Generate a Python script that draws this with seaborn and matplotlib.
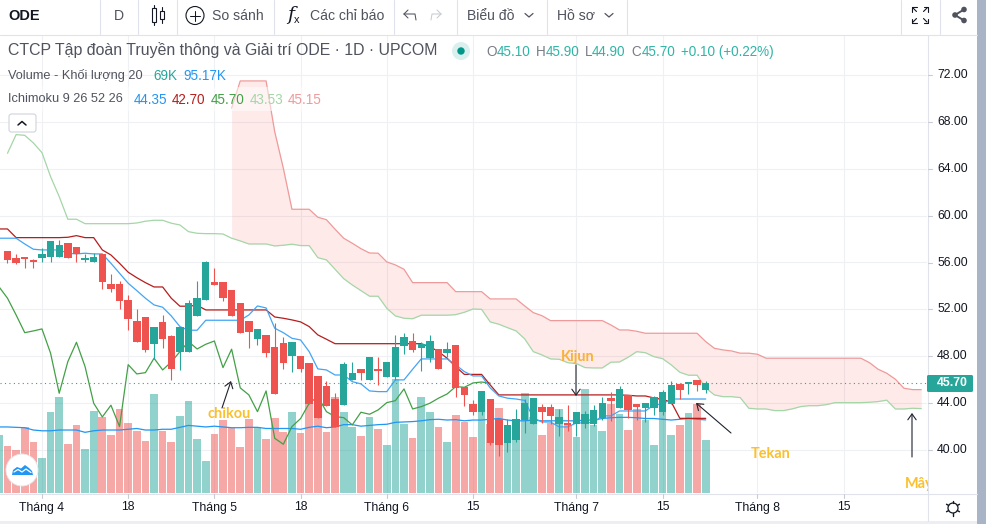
import numpy as np, pandas as pd
import matplotlib
matplotlib.use("Agg")
import matplotlib.pyplot as plt
from matplotlib.patches import Rectangle, Circle, FancyBboxPatch, Polygon
import seaborn as sns

sns.set_theme(style="white")
plt.rcParams['font.family'] = ['Liberation Sans', 'DejaVu Sans']

# ---------- data ----------
opens = [56.94,56.34,56.5,56.25,56.4,56.5,56.5,57.7,57.35,56.17,56.0,56.75,54.2,54.2,52.8,51.0,51.35,49.05,50.9,49.7,
         48.4,48.4,51.4,52.8,54.3,54.3,53.65,52.5,51.0,49.5,49.8,48.75,49.1,48.0,48.0,47.4,46.35,45.5,44.35,43.8,
         45.95,46.9,45.95,46.9,46.2,46.2,48.9,49.3,48.7,47.85,48.6,48.25,48.95,45.4,43.9,43.2,44.35,42.65,40.6,40.85,
         42.55,42.25,43.65,43.65,42.2,42.3,42.2,42.2,42.2,42.7,44.45,43.6,44.65,43.9,43.6,43.6,43.25,43.9,45.6,45.6,46.0,45.1]
closes = [56.17,55.97,56.27,56.0,56.75,57.8,57.45,56.4,56.7,56.34,56.5,54.3,53.7,52.7,51.2,49.2,48.5,50.5,49.5,46.95,
          50.5,52.5,53.0,56.0,54.05,52.95,51.4,49.95,50.05,50.3,48.25,44.75,47.4,49.2,46.9,43.9,42.75,43.75,41.95,47.3,
          46.55,46.55,47.9,46.7,47.5,48.75,49.6,48.5,49.05,49.3,46.9,48.6,45.3,44.7,43.2,45.0,40.6,40.45,42.1,42.65,
          44.0,44.45,43.25,42.9,42.8,42.15,43.25,43.1,43.45,44.0,44.2,45.2,43.45,43.65,44.0,44.5,44.95,45.55,45.1,45.8,45.55,45.7]
highs = [56.94,56.7,56.5,56.3,57.2,57.8,57.9,57.7,57.35,56.7,56.85,56.75,55.0,54.4,53.2,52.0,51.35,50.5,51.55,49.8,
         50.5,52.8,54.4,56.1,55.5,54.3,53.65,52.5,51.0,50.3,49.8,50.8,49.65,49.2,48.0,47.4,46.35,45.85,44.85,47.5,
         47.5,46.9,47.9,47.9,47.5,49.8,49.95,49.95,49.2,49.8,48.6,49.2,48.95,45.4,44.25,45.0,44.35,42.65,42.65,43.5,
         44.35,44.45,43.9,43.9,43.5,43.85,43.25,43.3,43.85,44.5,44.95,45.45,44.65,43.9,44.0,44.6,45.1,45.9,45.7,45.8,46.0,45.9]
lows = [55.95,55.9,55.5,55.5,56.0,56.0,56.5,56.4,56.0,56.0,56.0,53.7,53.45,52.0,50.2,49.2,48.35,47.75,48.7,46.0,
        46.85,48.4,51.4,52.8,54.05,52.7,51.4,49.95,48.7,49.0,47.9,44.75,46.9,46.65,46.65,43.9,42.75,43.75,41.95,43.8,
        45.95,45.95,45.95,45.55,46.2,45.95,48.2,48.35,46.75,47.5,46.9,47.9,44.5,43.75,43.0,43.0,40.45,39.5,39.85,40.65,
        41.45,42.25,42.3,42.2,41.2,41.6,41.2,41.9,42.05,42.6,42.5,43.6,42.75,42.55,42.4,43.0,43.0,43.9,44.35,44.75,45.05,44.9]
# first entry of the next arrays is the bar cut by the left edge (index -1)
volume = [75,61,56,86,66,46,105,125,64,89,57,107,99,76,109,91,81,68,129,81,66,100,120,70,42,77,95,85,60,96,86,70,98,79,105,78,
          130,99,79,125,105,86,74,99,83,62,148,90,72,125,105,86,66,102,92,73,121,90,111,87,85,130,99,76,91,109,88,73,135,88,81,
          116,103,82,109,95,62,108,76,89,104,116,69]
volume_ma = [86,86,85.5,85,82,81,81,82,82,82,79,81,82,82,82,83,84,82,82,83,83,85.5,88,87,86,87,86,85,85,85.5,85.5,84,84,84,84,83,
             85.5,87,85,86,89,89,87,88,89,89.5,92,92.5,93,94,95.5,96,95,95.5,94,95,95,96,97,95,94,94,95,94,94,94,94,94,95,95,97,
             98,98.5,98.5,98,97,97,96,95,96,97,96,95.17]
tenkan = [58.07,58.07,58.07,57.58,57.13,57.07,57.07,57.07,56.79,56.73,56.79,56.73,56.73,55.93,55.08,54.23,53.6,52.95,52.38,52.18,
          51.44,50.53,50.22,50.22,51.07,51.07,51.07,51.07,51.07,51.52,52.29,52.12,50.39,50.01,49.53,49.39,48.39,46.92,46.83,46.4,
          46.4,45.83,45.64,45.04,44.98,44.98,45.98,45.98,46.89,47.77,47.77,47.77,47.77,47.26,46.69,46.32,46.32,45.3,44.61,44.42,
          44.35,44.23,42.73,42.39,42.39,41.97,41.97,42.31,42.31,42.35,42.91,42.91,43.33,43.33,43.33,43.33,43.84,43.93,44.35,44.35,44.35,44.35,44.35]
kijun = [58.86,58.86,58.12,58.12,58.12,58.12,58.12,58.12,58.15,58.29,58.12,58.12,57.07,56.64,55.93,55.17,54.7,54.28,53.91,53.91,
         52.95,52.27,52.27,52.35,51.95,51.95,51.95,51.95,51.95,51.95,51.95,51.95,51.35,51.24,51.1,50.93,50.53,49.82,49.45,49.07,
         49.07,49.07,49.07,49.07,49.07,49.07,49.07,49.07,49.07,49.07,48.82,48.39,47.83,47.11,46.45,46.45,46.45,45.55,44.7,44.7,
         44.7,44.7,44.7,44.7,44.7,44.7,44.7,44.7,44.7,44.7,44.7,44.7,44.7,44.67,44.61,44.61,44.44,44.31,44.1,42.7,42.7,42.7,42.7]
chikou = [53.94,52.95,51.52,50.01,50.16,50.33,48.25,44.84,47.54,49.19,47.11,43.99,42.82,43.82,42.0,47.28,46.49,46.6,47.83,46.83,
          47.51,48.39,49.25,48.62,49.02,49.3,47.03,48.6,45.3,44.7,43.27,45.04,41.0,40.49,42.0,42.68,43.99,44.55,43.27,42.85,
          42.76,42.14,43.22,43.05,43.42,44.04,44.21,45.21,43.5,43.7,43.99,44.42,44.78,45.41,45.35,45.72,45.8,45.7]
senkou_a = [65.32,66.91,66.85,66.2,65.37,63.32,61.62,59.69,59.69,59.31,59.31,59.31,59.31,59.31,59.31,59.37,59.52,59.6,59.6,59.35,
            59.2,58.63,58.49,58.46,58.46,58.43,58.07,57.84,57.58,57.58,57.58,57.41,57.47,57.56,57.44,57.44,56.41,56.22,55.42,54.62,
            54.08,53.6,53.12,53.12,52.09,51.44,51.24,51.2,51.5,51.5,51.5,51.5,51.55,51.75,52.03,52.0,50.93,50.73,50.44,50.16,
            49.48,48.39,48.11,47.77,47.74,47.45,47.37,47.03,47.0,47.0,47.49,47.51,47.91,48.39,48.3,47.96,47.79,47.26,46.63,46.38,
            46.38,45.3,44.7,44.55,44.55,44.47,43.56,43.5,43.5,43.36,43.36,43.5,43.7,43.78,43.78,43.87,44.04,44.04,44.04,44.04,
            44.07,44.13,44.25,43.5,43.5,43.56,43.53]
senkou_b = [69.16,71.49,71.49,71.49,71.49,67.16,64.04,60.54,60.54,60.54,59.86,59.65,58.84,58.07,57.64,57.18,56.81,56.79,56.05,55.79,
            55.42,54.28,54.28,54.28,54.28,54.28,53.51,53.51,53.51,53.51,52.89,52.89,52.89,52.89,52.29,51.72,51.46,51.04,51.04,51.04,
            51.04,51.04,51.04,51.04,50.67,50.24,50.24,50.13,49.96,49.96,49.96,49.96,49.96,49.96,49.96,49.25,48.68,48.54,48.45,48.26,
            48.26,48.17,47.83,47.83,47.83,47.83,47.83,47.83,47.83,47.83,47.83,47.83,47.83,47.83,47.45,46.89,46.55,46.04,45.27,45.15,45.15]
b_start = 26
last_price = 45.70
price_ticks = [72, 68, 64, 60, 56, 52, 48, 44, 40]
time_tick_pos = [4, 14, 24, 34, 44, 54, 66, 76, 87, 97]
time_tick_lab = ["Tháng 4", "18", "Tháng 5", "18", "Tháng 6", "15", "Tháng 7", "15", "Tháng 8", "15"]

RED, GREEN = "#ef5350", "#26a69a"
W, H = 987, 524
fig = plt.figure(figsize=(W/100, H/100), dpi=100, facecolor="white")
rect = [0, (H-493)/H, 927.5/W, (493-35)/H]
XLIM = (-0.87, 106.73)
YLIM = (36.33, 75.41)

# grid layer
ax_g = fig.add_axes(rect, zorder=0)
ax_g.set_xlim(*XLIM); ax_g.set_ylim(*YLIM)
ax_g.set_yticks(price_ticks); ax_g.set_xticks(time_tick_pos)
ax_g.grid(True, color="#eef0f3", lw=0.8)
ax_g.tick_params(length=0, labelleft=False, labelbottom=False)
for s in ax_g.spines.values():
    s.set_visible(False)

# volume layer
ax_v = fig.add_axes(rect, zorder=1, facecolor="none")
dirs = ["up"] + ["up" if c >= o else "dn" for o, c in zip(opens, closes)]
dfv = pd.DataFrame({"i": np.arange(-1, len(volume)-1), "v": volume, "dir": dirs})
sns.barplot(data=dfv, x="i", y="v", hue="dir", palette={"up": GREEN, "dn": RED}, dodge=False,
            native_scale=True, width=0.89, saturation=1, alpha=0.5, linewidth=0, legend=False, ax=ax_v)
sns.lineplot(x=np.arange(-1, len(volume_ma)-1), y=volume_ma, color="#2196f3", lw=0.9, ax=ax_v,
             estimator=None, errorbar=None)
ax_v.set_xlim(*XLIM); ax_v.set_ylim(0, 458/0.768)
ax_v.axis("off")

# price layer
ax = fig.add_axes(rect, zorder=2, facecolor="none")
xa = np.arange(len(senkou_a))
xb = np.arange(b_start, b_start+len(senkou_b))
ax.fill_between(xb, senkou_a[b_start:], senkou_b, color=RED, alpha=0.12, lw=0)
for xs, ys, c, lw in [(xa, senkou_a, "#a5d6a7", 0.9), (xb, senkou_b, "#ef9a9a", 0.9),
                      (np.arange(-1, len(chikou)-1), chikou, "#43a047", 0.9),
                      (np.arange(-1, len(kijun)-1), kijun, "#b71c1c", 0.9),
                      (np.arange(-1, len(tenkan)-1), tenkan, "#42a5f5", 0.9)]:
    sns.lineplot(x=xs, y=ys, color=c, lw=lw, ax=ax, estimator=None, errorbar=None)
ax.axhline(last_price, color=GREEN, lw=0.8, ls=(0, (1, 3)), zorder=2)
xc = np.arange(len(opens))
colors = [GREEN if c >= o else RED for o, c in zip(opens, closes)]
ax.vlines(xc, lows, highs, colors=colors, lw=0.8, zorder=4)
ax.bar(xc, np.array(closes)-np.array(opens), bottom=opens, width=0.86, color=colors, lw=0, zorder=5)
ax.set_xlim(*XLIM); ax.set_ylim(*YLIM)
ax.axis("off")

# ---------- interface layer, in picture pixels ----------
ui = fig.add_axes([0, 0, 1, 1], zorder=5, facecolor="none")
ui.set_xlim(0, W); ui.set_ylim(H, 0); ui.axis("off")
px = lambda v: v*0.72
DARK, GREY = "#131722", "#50535e"
LINE = "#e0e3eb"

def T(x, y, s, size, color=GREY, **kw):
    kw.setdefault("va", "center")
    return ui.text(x, y, s, fontsize=px(size), color=color, **kw)

def seg(xs, ys, c=DARK, lw=0.75):
    ui.plot(xs, ys, color=c, lw=lw, solid_capstyle="round")

# translucent band behind the legend rows
ui.add_patch(Rectangle((0, 87), 325, 23.5, fc="white", ec="none", alpha=0.5))

# toolbar
ui.plot([0, 977], [34.5, 34.5], color=LINE, lw=0.8)
for xv in [99.5, 137.5, 176.5, 273.5, 393.5, 456.5, 546.5, 626.5, 900.5, 939.5]:
    ui.plot([xv, xv], [0, 34], color=LINE, lw=0.8)
T(8, 15.5, "ODE", 14.5, DARK, weight="bold")
T(114, 15.5, "D", 14, GREY)
for xv, top, bot, wt, wb in [(153.5, 5, 25, 8, 22), (161.5, 7, 23, 11, 19)]:
    seg([xv, xv], [top, bot], DARK, 0.8)
    ui.add_patch(Rectangle((xv-2, wt), 4, wb-wt, fc="white", ec=DARK, lw=0.8, zorder=3))
ui.add_patch(Circle((195, 15.5), 9, fc="none", ec=DARK, lw=0.8))
seg([190, 200], [15.5, 15.5]); seg([195, 195], [10.5, 20.5])
T(212, 15.5, "So sánh", 14, GREY)
T(287, 15, "f", 19, DARK, style="italic", family="DejaVu Serif")
T(294, 20, "x", 11, DARK)
T(310, 15.5, "Các chỉ báo", 14, GREY)
seg([404, 415, 416], [14, 14, 20], GREY); seg([404, 408], [14, 10], GREY); seg([404, 408], [14, 18], GREY)
seg([441, 432, 431], [14, 14, 20], "#c8cbd2"); seg([441, 437], [14, 10], "#c8cbd2"); seg([441, 437], [14, 18], "#c8cbd2")
T(467, 15.5, "Biểu đồ", 14, GREY)
seg([525, 529, 533], [13.5, 17, 13.5], GREY, 0.9)
T(557, 15.5, "Hồ sơ", 14, GREY)
seg([605, 609, 613], [13.5, 17, 13.5], GREY, 0.9)
for sx, sy in [(-1, -1), (1, -1), (-1, 1), (1, 1)]:
    cx, cy = 920+sx*8, 15+sy*8
    seg([cx, cx-sx*4.5], [cy, cy], DARK, 0.8)
    seg([cx, cx], [cy, cy-sy*4.5], DARK, 0.8)
    seg([cx-sx*4.5, cx-sx*1], [cy-sy*4.5, cy-sy*1], DARK, 0.8)
seg([964, 955, 964], [9.5, 15, 20.5], GREY, 1.4)
for cx, cy, r in [(964, 9.5, 2.8), (955, 15, 2.8), (964, 20.5, 2.8)]:
    ui.add_patch(Circle((cx, cy), r, fc=GREY, ec="none", zorder=3))

# legend rows
T(8, 50.5, "CTCP Tập đoàn Truyền thông và Giải trí ODE · 1D · UPCOM", 15.9, GREY)
ui.add_patch(Circle((461, 51), 9, fc="#d9f0ee", ec="none"))
ui.add_patch(Circle((461, 51), 3.7, fc="#009688", ec="none"))
VAL = "#2eb5a6"
for x0, lab, xv, val in [(486, "O", 497, "45.10"), (535.5, "H", 546, "45.90"),
                         (585, "L", 592, "44.90"), (631.5, "C", 642, "45.70")]:
    T(x0, 52, lab, 13.5, "#787b86"); T(xv, 52, val, 13.5, VAL)
T(681, 52, "+0.10 (+0.22%)", 13.5, VAL)
T(8, 75.5, "Volume - Khối lượng 20", 12.8, GREY)
T(153, 75.5, "69K", 13.5, "#26a69a")
T(183, 75.5, "95.17K", 13.5, "#2196f3")
T(8, 99.5, "Ichimoku 9 26 52 26", 12.8, GREY)
for xv, s, c in [(134, "44.35", "#2196f3"), (172, "42.70", "#b71c1c"), (211, "45.70", "#43a047"),
                 (250, "43.53", "#a5d6a7"), (288, "45.15", "#ef9a9a")]:
    T(xv, 99.5, s, 13.5, c)
ui.add_patch(FancyBboxPatch((9, 114), 27, 18, boxstyle="round,pad=0,rounding_size=2.5", fc="white", ec="#cfd3dc", lw=0.8))
seg([18, 22, 26], [125, 121.5, 125], DARK, 1.1)

# axes frame, tick labels
ui.plot([927.5, 927.5], [35, 521], color=LINE, lw=0.8)
ui.plot([0, 977], [493.5, 493.5], color=LINE, lw=0.8)
ui.add_patch(Rectangle((977, 0), 10, H, fc="#a9b4c6", ec="none"))
ui.add_patch(Rectangle((0, 521), 977, 3, fc="#eceef2", ec="none"))
ytrans = lambda p: 75+(72-p)*11.72
for p in price_ticks:
    y = ytrans(p)
    ui.plot([928, 932], [y, y], color="#c8cbd2", lw=0.8)
    T(937, y, f"{p:.2f}", 12.3, DARK)
for pos, lab in zip(time_tick_pos, time_tick_lab):
    x = 7.5+8.62*pos
    ui.plot([x, x], [494, 498], color="#c8cbd2", lw=0.8)
    T(x, 507.5, lab, 12.3, DARK, ha="center")
ui.add_patch(FancyBboxPatch((927, 375), 46, 17, boxstyle="round,pad=0,rounding_size=1.5", fc=GREEN, ec="none", zorder=3))
T(937, 383.5, "45.70", 12.3, "white", weight="bold", zorder=4)
# settings gear
ui.add_patch(Circle((953, 508), 5, fc="none", ec=DARK, lw=0.9))
for a in np.deg2rad(np.arange(0, 360, 60)+30):
    seg([953+5*np.cos(a), 953+7.5*np.cos(a)], [508+5*np.sin(a), 508+7.5*np.sin(a)], DARK, 1.0)

# logo
ui.add_patch(Circle((22, 470), 16, fc="white", ec="#e6e6e6", lw=0.6, zorder=6))
ui.add_patch(Polygon([[12, 475], [13, 470], [17, 467], [21, 468.5], [25, 465], [29, 468], [32, 471], [33, 475]],
                     closed=True, fc="#2196f3", ec="none", zorder=7))
ui.plot([14, 18, 22, 26, 31], [472, 469.5, 472, 469, 472.5], color="white", lw=0.9, zorder=8)

# annotations
ORANGE = "#fbc02d"
T(207, 414, "chikou", 14.5, ORANGE, weight="bold", family="Lato")
T(561, 357, "Kijun", 14.5, "#f9b233", weight="bold", family="Lato")
T(751, 454, "Tekan", 14.5, ORANGE, weight="bold", family="Lato")
may = T(905, 484, "Mây", 14.5, ORANGE, weight="bold", family="Lato", clip_on=True)
may.set_clip_path(Rectangle((900, 470), 27.5, 30, transform=ui.transData))
for tail, head in [((222, 408), (231, 381)), ((576, 365), (576, 396)), ((731, 433), (696, 403)), ((912, 457), (912, 413))]:
    ui.annotate("", xy=head, xytext=tail, arrowprops=dict(arrowstyle="->,head_length=0.35,head_width=0.25",
                                                          color="#20232e", lw=0.8, shrinkA=0, shrinkB=0))

fig.savefig("out.png", dpi=100)
